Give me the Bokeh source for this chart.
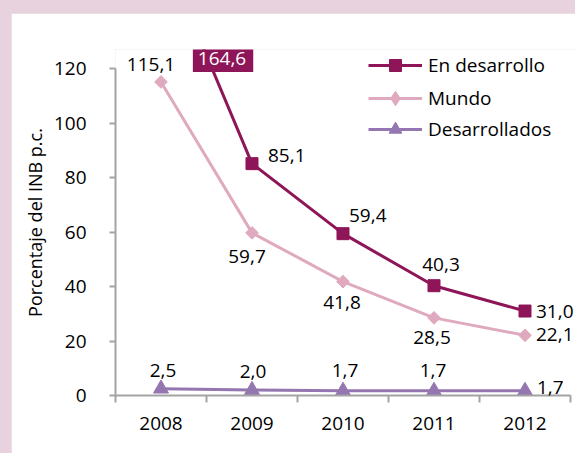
import numpy as np
from bokeh.plotting import figure
from bokeh.models import Range1d, FixedTicker, Label, Legend, LegendItem
from bokeh.layouts import column
from bokeh.embed import file_html
from bokeh.resources import INLINE

# ---------------- data ----------------
YEARS = [2008, 2009, 2010, 2011, 2012]
YEAR_LABELS = ["2008", "2009", "2010", "2011", "2012"]
EN_DESARROLLO = [164.6, 85.1, 59.4, 40.3, 31.0]
MUNDO = [115.1, 59.7, 41.8, 28.5, 22.1]
DESARROLLADOS = [2.5, 2.0, 1.7, 1.7, 1.7]
SERIES_NAMES = ["En desarrollo", "Mundo", "Desarrollados"]
Y_TICKS = [0, 20, 40, 60, 80, 100, 120]
Y_TITLE = "Porcentaje del INB p.c."

# ---------------- style ----------------
FONT = "Open Sans"
FS = "19px"
FS_TITLE = "18px"
C_DEV = "#8E1558"
C_MUN = "#DFAABF"
C_DES = "#9477B0"
C_AXIS = "#A3A3A3"
C_BAND = "#E7D2DD"
Y_MIN, Y_MAX = 0, 120
Y_VIEW_TOP = 127.0          # headroom above the axis for labels / legend
X_MIN, X_MAX = YEARS[0] - 0.5, YEARS[-1] + 0.5
X_VIEW_END = X_MAX + 0.055  # a few px of room on the right for end labels


def fmt(v):
    return f"{v:.1f}".replace(".", ",")


p = figure(width=564, height=440,
           x_range=Range1d(X_MIN, X_VIEW_END),
           y_range=Range1d(Y_MIN, Y_VIEW_TOP),
           output_backend="svg", toolbar_location=None,
           min_border_left=104, min_border_right=0,
           min_border_top=36, min_border_bottom=58)
p.background_fill_color = "white"
p.border_fill_color = "white"
p.outline_line_color = None
p.xgrid.visible = False
p.ygrid.visible = False

# x axis: labels at the years, tick marks between categories
xa = p.xaxis[0]
xa.ticker = FixedTicker(ticks=YEARS,
                        minor_ticks=[y - 0.5 for y in YEARS] + [YEARS[-1] + 0.5])
xa.bounds = (X_MIN, X_MAX)
xa.major_label_overrides = {y: lab for y, lab in zip(YEARS, YEAR_LABELS)}
xa.major_tick_out = 0
xa.major_tick_in = 0
xa.minor_tick_out = 7
xa.minor_tick_in = 0
xa.minor_tick_line_color = C_AXIS
xa.minor_tick_line_width = 2
xa.major_label_standoff = 14

ya = p.yaxis[0]
ya.ticker = FixedTicker(ticks=Y_TICKS, minor_ticks=[])
ya.bounds = (Y_MIN, Y_MAX)
ya.major_tick_out = 6
ya.major_tick_in = 0
ya.major_label_standoff = 23
ya.axis_label = Y_TITLE
ya.axis_label_standoff = 4

for ax in (xa, ya):
    ax.axis_line_color = C_AXIS
    ax.axis_line_width = 2
    ax.major_tick_line_color = C_AXIS
    ax.major_tick_line_width = 2
    ax.major_label_text_font = FONT
    ax.major_label_text_font_size = FS
    ax.major_label_text_color = "#000000"
    ax.axis_label_text_font = FONT
    ax.axis_label_text_font_size = FS_TITLE
    ax.axis_label_text_font_style = "normal"
    ax.axis_label_text_color = "#000000"

# ---------------- series ----------------
series = [
    (SERIES_NAMES[0], EN_DESARROLLO, C_DEV, dict(marker="square", size=12, angle=0.0), "square"),
    (SERIES_NAMES[1], MUNDO, C_MUN, dict(marker="square", size=9, angle=np.pi / 4), "diamond"),
    (SERIES_NAMES[2], DESARROLLADOS, C_DES, dict(marker="triangle", size=15, angle=0.0), "triangle"),
]
legend_items = []
for name, vals, color, mk, legend_marker in series:
    ln = p.line(YEARS, vals, line_color=color, line_width=3)
    sc = p.scatter(YEARS, vals, fill_color=color, line_color=color, **mk)
    # swatch renderer (a single non-drawable point) giving the legend its marker shape
    sw = p.scatter(x=[np.nan], y=[np.nan], marker=legend_marker,
                   fill_color=color, line_color=color)
    legend_items.append(LegendItem(label=name, renderers=[ln, sw]))

# ---------------- legends (one per row) ----------------
legend_rows = [  # (glyph_height, bottom offset from frame bottom)
    (30, 315),
    (36, 279),
    (32, 250),
]
for item, (gh, yb) in zip(legend_items, legend_rows):
    lg = Legend(items=[item], location=(253, yb), orientation="vertical",
                glyph_width=54, glyph_height=gh, label_height=gh,
                label_standoff=6, padding=0, margin=0, spacing=0,
                background_fill_alpha=0, border_line_color=None,
                label_text_font=FONT, label_text_font_size=FS,
                label_text_color="#000000")
    p.add_layout(lg, "center")

# ---------------- data labels ----------------
OFF_DEV = [None, (16, 8, "left"), (6, 18, "left"), (7, 21, "center"), (11, 0, "left")]
OFF_MUN = [(-10, 17, "center"), (-5, -24, "center"), (-1, -21, "center"),
           (-2, -20, "center"), (11, 1, "left")]
OFF_DES = [(2, 18, "center"), (1, 19, "center"), (2, 20, "center"),
           (-1, 20, "center"), (12, 3, "left")]


def add_labels(vals, offs, color="#000000"):
    for x, v, o in zip(YEARS, vals, offs):
        if o is None:
            continue
        dx, dy, al = o
        p.add_layout(Label(x=x, y=v, text=fmt(v), x_offset=dx, y_offset=dy,
                           text_align=al, text_baseline="middle",
                           text_font=FONT, text_font_size=FS, text_color=color))


add_labels(EN_DESARROLLO, OFF_DEV)
add_labels(MUNDO, OFF_MUN)
add_labels(DESARROLLADOS, OFF_DES)

# value beyond the axis maximum: boxed label where the line leaves the axis
v0, v1 = EN_DESARROLLO[0], EN_DESARROLLO[1]
x_cross = YEARS[0] + (v0 - Y_MAX) / (v0 - v1) * (YEARS[1] - YEARS[0])
p.add_layout(Label(x=x_cross, y=Y_MAX, text=fmt(v0), x_offset=11, y_offset=8,
                   text_align="center", text_baseline="middle",
                   text_font=FONT, text_font_size=FS, text_color="white",
                   background_fill_color=C_DEV, padding=(5, 7, 3, 7)))

layout = column(p, styles={"padding-top": "13px", "padding-left": "11px",
                           "background-color": C_BAND})

open("out.html", "w").write(file_html(layout, INLINE))
